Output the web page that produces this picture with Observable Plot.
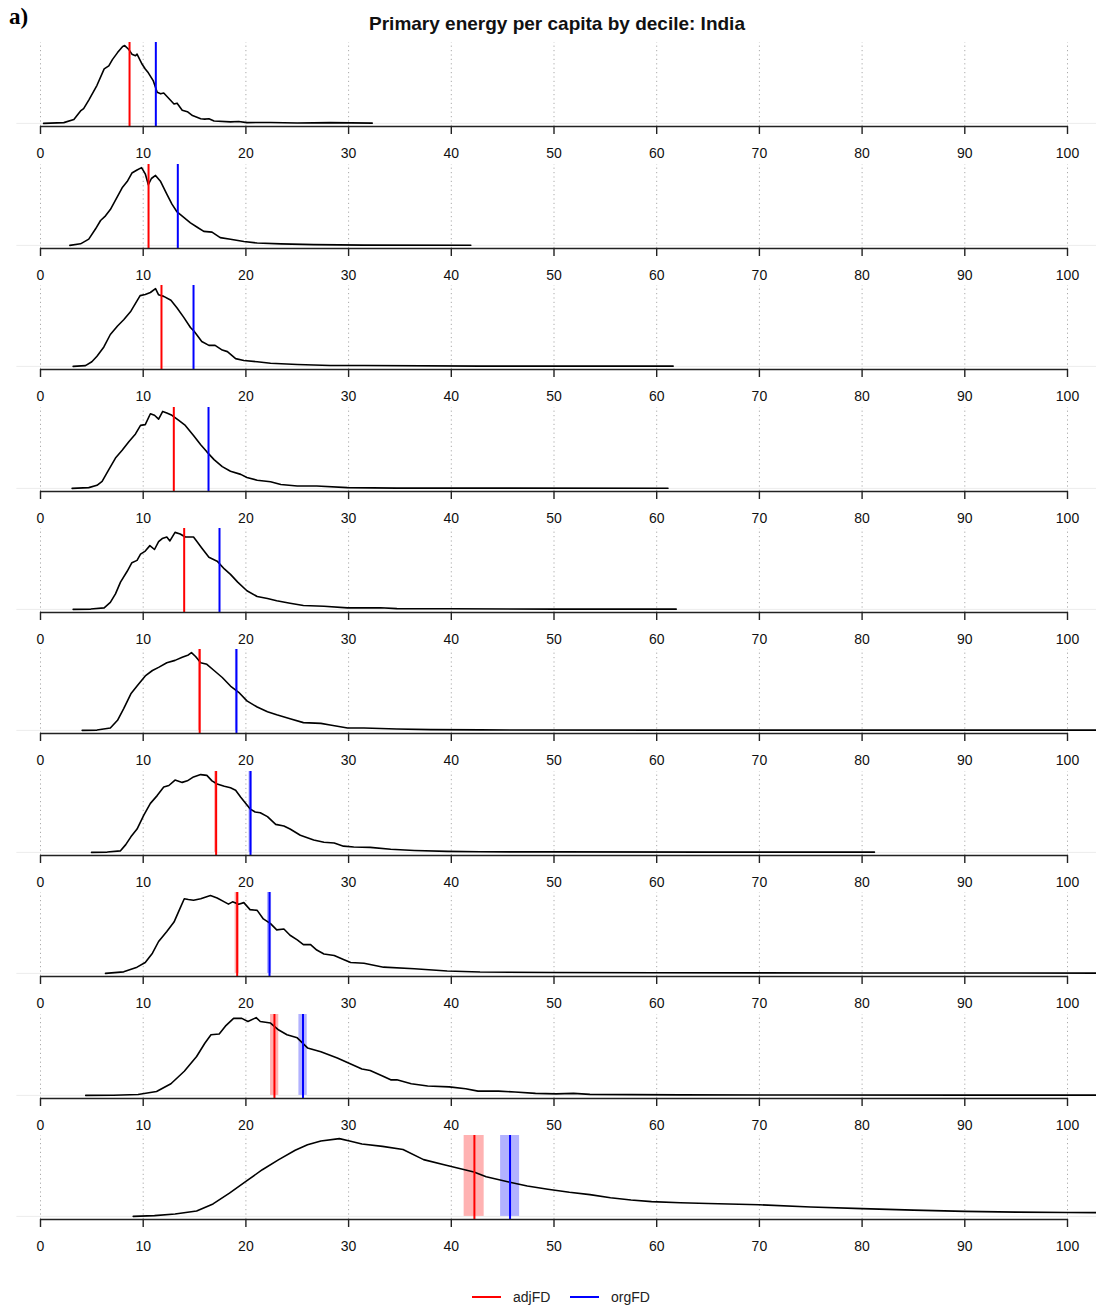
<!DOCTYPE html>
<html>
<head>
<meta charset="utf-8">
<script src="https://cdn.jsdelivr.net/npm/d3@7"></script>
<script src="https://cdn.jsdelivr.net/npm/@observablehq/plot@0.6"></script>
<style>
  html, body { margin: 0; padding: 0; background: #fff; overflow: hidden; }
  #wrap { position: relative; width: 1096px; height: 1307px; font-family: "Liberation Sans", Arial, sans-serif; }
  #tag { position: absolute; left: 9px; top: 4px; font-family: "Liberation Serif", "Times New Roman", serif; font-weight: bold; font-size: 23px; color: #000; }
  #title { position: absolute; left: 0; width: 1114px; top: 13px; text-align: center; font-weight: bold; font-size: 19px; color: #111; }
  .panel { position: absolute; left: 0; }
  #legend { position: absolute; top: 1288px; left: 0; width: 1096px; height: 19px; font-size: 14px; color: #222; }
</style>
</head>
<body>
<div id="wrap">
  <div id="tag">a)</div>
  <div id="title">Primary energy per capita by decile: India</div>
  <div id="legend"></div>
</div>
<script>
// ---------- data ----------
const xTicks = [0, 10, 20, 30, 40, 50, 60, 70, 80, 90, 100];
const deciles = ["D1", "D2", "D3", "D4", "D5", "D6", "D7", "D8", "D9", "D10"];
const seriesNames = ["adjFD", "orgFD"];

// mean lines and their interval bands
const adjFD = [8.67, 10.52, 11.78, 12.98, 13.99, 15.50, 17.10, 19.15, 22.78, 42.25];
const orgFD = [11.23, 13.37, 14.90, 16.36, 17.43, 19.08, 20.45, 22.30, 25.56, 45.72];
const adjLo = [8.67, 10.52, 11.78, 12.98, 13.99, 15.38, 16.95, 18.95, 22.40, 41.25];
const adjHi = [8.67, 10.52, 11.78, 12.98, 13.99, 15.62, 17.25, 19.35, 23.20, 43.20];
const orgLo = [11.23, 13.37, 14.90, 16.36, 17.43, 18.98, 20.30, 22.10, 25.16, 44.80];
const orgHi = [11.23, 13.37, 14.90, 16.36, 17.43, 19.20, 20.60, 22.50, 25.97, 46.65];

// density curves (relative height, peak = 1)
const dens1 = [[0.3,0],[2.27,0.01],[3.25,0.05],[3.9,0.16],[4.2,0.19],[4.7,0.30],[5.5,0.49],[6.2,0.70],[6.65,0.74],[7.0,0.82],[7.5,0.91],[8.0,0.99],[8.2,1.0],[8.6,0.95],[8.9,0.89],[9.25,0.87],[9.4,0.89],[9.9,0.76],[10.2,0.70],[10.5,0.65],[10.97,0.55],[11.36,0.40],[11.7,0.38],[12.0,0.39],[12.5,0.32],[13.0,0.25],[13.3,0.26],[13.8,0.17],[14.3,0.15],[14.8,0.10],[15.6,0.06],[16.0,0.055],[16.4,0.06],[16.9,0.03],[18.5,0.02],[19.3,0.025],[20.1,0.01],[22.4,0.012],[25,0.005],[28.2,0.01],[32.3,0.003]];
const dens2 = [[2.86,0],[3.9,0.02],[4.7,0.08],[5.35,0.21],[5.85,0.32],[6.33,0.38],[6.8,0.46],[7.5,0.63],[7.95,0.74],[8.44,0.82],[8.9,0.93],[9.4,0.97],[9.84,1.0],[10.2,0.92],[10.5,0.78],[10.8,0.86],[11.2,0.90],[11.7,0.82],[12.3,0.66],[12.8,0.53],[13.3,0.43],[13.95,0.36],[14.6,0.29],[15.3,0.23],[15.9,0.18],[16.7,0.17],[17.5,0.10],[18.5,0.08],[19.8,0.05],[21.1,0.03],[23.4,0.02],[26.6,0.01],[31.5,0.004],[41.9,0.002]];
const dens3 = [[3.18,0],[4.38,0.01],[5.0,0.06],[5.5,0.13],[6.17,0.25],[6.8,0.41],[7.5,0.52],[8.1,0.60],[8.8,0.71],[9.25,0.81],[9.7,0.91],[10.2,0.925],[10.7,0.95],[11.2,1.0],[11.5,0.92],[12.0,0.90],[12.7,0.85],[13.3,0.75],[13.95,0.63],[14.6,0.50],[14.9,0.46],[15.25,0.40],[15.7,0.32],[16.4,0.27],[17.0,0.27],[17.7,0.21],[18.2,0.19],[19.0,0.10],[19.8,0.075],[21.1,0.06],[22.4,0.04],[25,0.025],[28.2,0.012],[31.5,0.012],[42.8,0.004],[50,0.004],[61.6,0.003]];
const dens4 = [[3.08,0],[4.7,0.01],[5.5,0.04],[6.0,0.09],[6.65,0.24],[7.3,0.39],[7.95,0.49],[8.6,0.60],[9.25,0.70],[9.74,0.81],[10.2,0.82],[10.7,0.96],[11.1,0.94],[11.5,0.89],[11.9,0.99],[12.3,0.97],[12.8,0.94],[13.5,0.87],[14.1,0.81],[14.9,0.68],[15.6,0.56],[16.2,0.47],[16.9,0.37],[17.7,0.28],[18.5,0.22],[19.5,0.18],[20.1,0.14],[21.1,0.105],[22.4,0.085],[23.4,0.05],[25.0,0.03],[26.9,0.03],[29.9,0.01],[34.7,0.004],[45,0.003],[61.1,0.002]];
const dens5 = [[3.18,0],[4.9,0.004],[6.2,0.02],[6.8,0.09],[7.3,0.20],[7.79,0.35],[8.44,0.49],[8.9,0.60],[9.4,0.63],[9.74,0.71],[10.2,0.75],[10.65,0.82],[11.1,0.77],[11.5,0.87],[11.85,0.91],[12.3,0.93],[12.6,0.88],[13.1,0.99],[13.6,0.97],[14.1,0.93],[14.9,0.93],[15.25,0.87],[15.7,0.79],[16.4,0.67],[17.2,0.62],[17.9,0.52],[18.5,0.45],[19.2,0.35],[20.1,0.24],[21.1,0.165],[22.1,0.14],[23.0,0.11],[24.3,0.08],[25.6,0.05],[27.6,0.04],[29.9,0.02],[31.5,0.02],[33.1,0.022],[34.7,0.01],[40,0.008],[50,0.004],[61.9,0.003]];
const dens6 = [[4.06,0],[5.5,0.004],[6.8,0.03],[7.5,0.13],[8.1,0.28],[8.8,0.47],[9.4,0.57],[10.2,0.70],[10.9,0.77],[11.5,0.81],[12.3,0.87],[13.1,0.90],[13.8,0.94],[14.4,0.97],[14.7,1.0],[15.1,0.95],[15.6,0.87],[16.2,0.85],[16.9,0.77],[17.7,0.68],[18.5,0.57],[19.3,0.49],[20.1,0.38],[21.1,0.30],[22.1,0.24],[23.0,0.20],[24.3,0.15],[25.6,0.10],[27.3,0.09],[28.2,0.07],[29.9,0.03],[31.5,0.03],[34.7,0.017],[38,0.01],[42.8,0.006],[60,0.004],[80,0.003],[103,0.003]];
const dens7 = [[4.97,0],[6.5,0.004],[7.79,0.02],[8.3,0.10],[8.8,0.20],[9.4,0.30],[10.06,0.48],[10.7,0.63],[11.36,0.73],[12.0,0.84],[12.5,0.86],[13.1,0.93],[13.8,0.90],[14.3,0.92],[14.9,0.97],[15.6,1.0],[16.2,0.99],[16.7,0.92],[17.2,0.88],[17.9,0.85],[18.5,0.83],[19.0,0.80],[19.5,0.71],[20.4,0.56],[20.9,0.52],[21.4,0.51],[22.1,0.46],[22.9,0.36],[23.7,0.34],[24.3,0.30],[25.3,0.22],[26.6,0.16],[27.6,0.13],[28.6,0.12],[29.5,0.08],[30.5,0.07],[32.1,0.064],[34.1,0.04],[36.4,0.025],[39.6,0.013],[42.8,0.008],[50,0.006],[65,0.004],[81.2,0.003]];
const dens8 = [[6.33,0],[8.1,0.02],[9.4,0.08],[10.2,0.14],[10.9,0.26],[11.5,0.41],[12.3,0.54],[13.0,0.66],[13.5,0.81],[14.0,0.96],[14.4,0.95],[14.9,0.94],[15.6,0.96],[16.55,1.0],[17.2,0.97],[17.9,0.92],[18.3,0.89],[18.7,0.92],[19.3,0.89],[19.8,0.91],[20.4,0.82],[21.1,0.81],[21.7,0.70],[22.4,0.64],[23.0,0.56],[23.7,0.57],[24.3,0.49],[25.0,0.43],[25.6,0.37],[26.3,0.37],[26.9,0.30],[27.6,0.25],[28.6,0.23],[29.5,0.18],[30.2,0.14],[31.5,0.13],[33.4,0.08],[36.4,0.06],[39.6,0.03],[42.8,0.017],[50,0.012],[60,0.008],[80,0.005],[103,0.004]];
const dens9 = [[4.4,0],[7.1,0.002],[9.5,0.012],[11.3,0.05],[12.7,0.15],[14.0,0.31],[15.2,0.50],[16.0,0.67],[16.6,0.78],[17.4,0.79],[18.0,0.89],[18.8,0.99],[19.6,0.99],[20.2,0.95],[21.0,1.0],[21.4,0.95],[22.4,0.93],[23.2,0.84],[24.0,0.78],[25.0,0.74],[26.0,0.61],[27.3,0.56],[28.9,0.48],[30.1,0.41],[31.3,0.34],[32.1,0.32],[33.3,0.25],[34.1,0.20],[34.7,0.20],[36.1,0.15],[37.7,0.12],[39.8,0.11],[41.4,0.085],[42.6,0.055],[44.6,0.055],[46.2,0.043],[48.2,0.026],[50.2,0.02],[51.9,0.026],[53.5,0.013],[57.5,0.01],[62.3,0.006],[75,0.005],[90,0.004],[103,0.004]];
const dens10 = [[9.03,0],[11.1,0.01],[13.1,0.03],[15.2,0.07],[16.8,0.16],[18.4,0.30],[20.0,0.45],[21.6,0.60],[23.2,0.73],[24.8,0.85],[26.0,0.92],[27.3,0.97],[29.1,1.0],[30.1,0.97],[31.3,0.93],[33.3,0.90],[35.3,0.86],[37.3,0.73],[39.4,0.66],[41.0,0.61],[42.2,0.57],[43.4,0.51],[45.7,0.44],[47.4,0.39],[49.4,0.35],[51.5,0.31],[53.5,0.28],[55.5,0.24],[57.5,0.21],[59.5,0.19],[62.3,0.175],[65,0.165],[70,0.15],[75,0.12],[80,0.10],[85,0.08],[90,0.065],[95,0.055],[100,0.05],[103,0.048]];
const densities = [dens1, dens2, dens3, dens4, dens5, dens6, dens7, dens8, dens9, dens10];

// ---------- drawing ----------
const RED = "#ff0000", BLUE = "#0000ff";
const wrap = document.getElementById("wrap");
const H = 122, AX = 88;   // svg height, axis position inside svg

deciles.forEach((name, i) => {
  const bands = [
    {lo: adjLo[i], hi: adjHi[i], c: RED},
    {lo: orgLo[i], hi: orgHi[i], c: BLUE}
  ].filter(b => b.hi > b.lo);
  const means = [{v: adjFD[i], c: RED}, {v: orgFD[i], c: BLUE}];
  const chart = Plot.plot({
    width: 1096,
    height: H,
    marginTop: 4,
    marginBottom: H - AX,
    marginLeft: 0,
    marginRight: 0,
    style: {background: "transparent", fontFamily: "Liberation Sans, Arial, sans-serif", fontSize: "14px", color: "#111"},
    x: {domain: [0, 100], range: [40, 1067]},
    y: {domain: [-0.04, 1.04], axis: null},
    marks: [
      Plot.ruleX(xTicks, {y1: -0.04, y2: 1.04, stroke: "#aaaaaa", strokeWidth: 1, strokeDasharray: "1.2,3.2"}),
      Plot.ruleY([0], {x1: -2.3, x2: 103, stroke: "#ececec", strokeWidth: 1}),
      Plot.rect(bands, {x1: "lo", x2: "hi", y1: 0, y2: 1.04, fill: d => d.c, fillOpacity: 0.3}),
      Plot.line(densities[i], {x: d => d[0], y: d => d[1], stroke: "#000", strokeWidth: 1.6}),
      Plot.ruleX(means, {x: "v", y1: -0.04, y2: 1.04, stroke: d => d.c, strokeWidth: 2}),
      Plot.ruleY([-0.04], {x1: 0, x2: 100, stroke: "#222", strokeWidth: 1.6}),
      Plot.axisX({ticks: xTicks, tickSize: 8, tickPadding: 14, tickFormat: d => String(d), stroke: "#222", strokeWidth: 1.4, fill: "#111", fontSize: 14})
    ]
  });
  chart.classList.add("panel");
  const axisY = 126.3 + 121.4 * i;
  chart.style.top = (axisY - AX) + "px";
  chart.style.position = "absolute";
  chart.style.left = "0px";
  wrap.appendChild(chart);
});

// legend
const leg = d3.select("#legend").append("svg").attr("width", 1096).attr("height", 19);
const legItems = [{n: seriesNames[0], c: RED, x: 472}, {n: seriesNames[1], c: BLUE, x: 570}];
legItems.forEach(it => {
  leg.append("line").attr("x1", it.x).attr("x2", it.x + 29).attr("y1", 9).attr("y2", 9).attr("stroke", it.c).attr("stroke-width", 2);
  leg.append("text").attr("x", it.x + 41).attr("y", 14).attr("font-size", 14).attr("fill", "#222")
     .attr("font-family", "Liberation Sans, Arial, sans-serif").text(it.n);
});
</script>
</body>
</html>
